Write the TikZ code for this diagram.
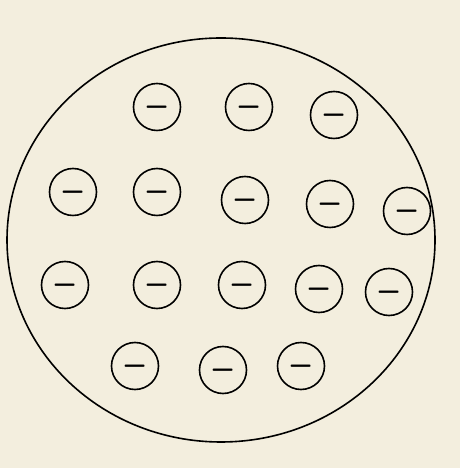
\documentclass[tikz,border=0pt]{standalone}
\usepackage{graphicx}
\definecolor{paper}{RGB}{243,238,222}
\tikzset{charge/.style={circle, draw=black, line width=1.6pt, minimum size=47pt, inner sep=0pt, font=\Huge}}
\newcommand{\minus}{\scalebox{1.3}[2.3]{$-$}}
\begin{document}
\begin{tikzpicture}[x=1pt, y=1pt, line width=1.6pt]

        % Background
        \fill[paper] (0,0) rectangle (460,468);
        \useasboundingbox (0,0) rectangle (460,468);

        % Outline of the body
        \draw (221,228) ellipse [x radius=214, y radius=202];

        % Top row
        \node[charge] (q1) at (157,361) {\minus};
        \node[charge] (q2) at (249,361) {\minus};
        \node[charge] (q3) at (334,353) {\minus};

        % Second row
        \node[charge] (q4) at (73,276) {\minus};
        \node[charge] (q5) at (157,276) {\minus};
        \node[charge] (q6) at (245,268) {\minus};
        \node[charge] (q7) at (330,264) {\minus};
        \node[charge] (q8) at (407,257) {\minus};

        % Third row
        \node[charge] (q9) at (65,183) {\minus};
        \node[charge] (q10) at (157,183) {\minus};
        \node[charge] (q11) at (242,183) {\minus};
        \node[charge] (q12) at (319,179) {\minus};
        \node[charge] (q13) at (389,176) {\minus};

        % Bottom row
        \node[charge] (q14) at (135,102) {\minus};
        \node[charge] (q15) at (223,98) {\minus};
        \node[charge] (q16) at (301,102) {\minus};

    \end{tikzpicture}
\end{document}
